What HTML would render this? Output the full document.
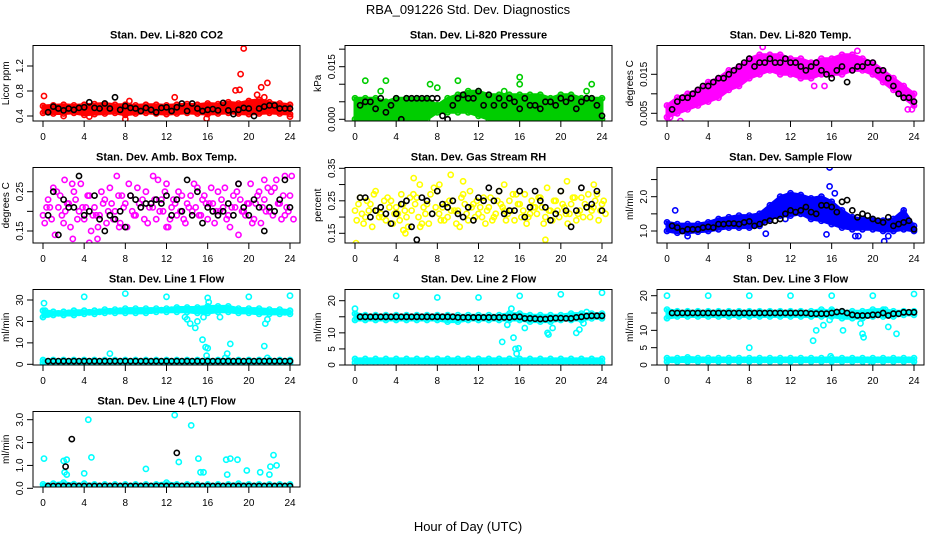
<!DOCTYPE html>
<html><head><meta charset="utf-8"><style>
body{margin:0;background:#fff;}
svg{display:block;font-family:"Liberation Sans",sans-serif;}
</style></head><body>
<svg id="chart" width="936" height="540" viewBox="0 0 936 540">
<text x="468" y="14" text-anchor="middle" font-size="13">RBA_091226  Std. Dev. Diagnostics</text>
<text x="468" y="531" text-anchor="middle" font-size="13">Hour of Day (UTC)</text>
</svg>
<script>
// ---- data ----
const xTicks = [0,4,8,12,16,20,24];
const co2Lo = [.45,.44,.44,.45,.42,.43,.44,.45,.42,.44,.45,.44,.43,.44,.45,.44,.43,.44,.45,.44,.43,.44,.45,.44,.43];
const co2Hi = [.56,.57,.58,.57,.58,.59,.60,.58,.58,.57,.58,.58,.57,.58,.59,.58,.60,.59,.62,.60,.64,.66,.62,.60,.58];
const co2Out = [[0.1,.72],[8.4,.64],[12.8,.70],[18.7,.81],[19.1,.82],[19.2,1.07],[19.5,1.48],[20.8,.74],[21.2,.86],[21.8,.93],[4.5,.39],[8,.35],[15.9,.36],[24,.39],[2,.40],[21.5,.70]];
const co2Black = [.46,.55,.52,.49,.52,.50,.53,.54,.62,.53,.52,.60,.52,.70,.50,.56,.53,.52,.48,.53,.50,.46,.53,.54,.48,.54,.60,.48,.60,.52,.48,.50,.51,.49,.61,.49,.43,.50,.53,.52,.40,.52,.55,.57,.57,.52,.52,.52];

const presLo = [0,0,0,0,0,0,0,0,.002,.002,.002,.002,.001,0,0,0,0,0,0,0,0,0,0,0,0];
const presHi = [.006,.006,.006,.005,.006,.006,.006,.006,.004,.006,.007,.008,.008,.007,.007,.007,.007,.007,.007,.006,.007,.007,.006,.006,.006];
const presOut = [[1,.011],[3,.011],[8,.023],[8,.009],[10,.011],[16,.025],[16,.012],[16,.010],[24,.022],[23,.010],[22.5,.008],[14.5,.008],[7.3,.010],[2.5,.008]];
const presBlack = [.004,.005,.005,.003,.006,.002,.004,.006,.000,.006,.006,.006,.006,.006,.006,.006,.001,.000,.004,.006,.007,.006,.006,.008,.004,.007,.004,.006,.004,.006,.005,.003,.006,.004,.004,.003,.005,.005,.004,.006,.005,.006,.003,.005,.006,.006,.004,.001];

const tempLo = [.004,.005,.006,.007,.008,.009,.011,.012,.014,.015,.016,.015,.015,.014,.014,.015,.015,.015,.016,.016,.015,.013,.011,.009,.007];
const tempHi = [.007,.009,.010,.011,.013,.014,.016,.017,.019,.020,.020,.020,.019,.019,.018,.019,.019,.020,.020,.019,.018,.016,.014,.012,.010];
const tempOut = [[1.3,.003],[9.3,.022],[18.5,.021],[23.4,.006],[23.8,.006],[14.3,.012],[15.3,.012],[0.3,.004]];
const tempBlack = [.006,.008,.009,.009,.010,.011,.012,.012,.013,.014,.014,.015,.016,.017,.018,.019,.017,.018,.018,.019,.018,.018,.019,.018,.018,.017,.016,.017,.018,.016,.015,.014,.016,.017,.013,.016,.017,.017,.018,.018,.016,.016,.014,.012,.010,.009,.009,.008];

const ambA = [.19,.23,.26,.21,.17,.22,.25,.20,.18,.24,.21,.19,.23,.26,.20,.17,.22,.24,.19,.21,.25,.22,.18,.23,.27,.21,.19,.24,.22,.20,.26,.23,.18,.22,.25,.21,.19,.24,.27,.20,.22,.18,.25,.23,.20,.26,.22,.19,.24];
const ambB = [.17,.21,.14,.24,.20,.16,.23,.27,.21,.15,.19,.25,.17,.22,.29,.24,.16,.20,.26,.23,.17,.21,.28,.20,.16,.23,.25,.18,.21,.27,.19,.24,.22,.17,.20,.26,.16,.21,.23,.19,.27,.22,.17,.20,.25,.28,.18,.21,.29];
const ambC = [.21,.18,.25,.19,.22,.27,.18,.21,.24,.19,.16,.22,.20,.18,.24,.21,.27,.19,.22,.18,.21,.23,.20,.25,.18,.22,.20,.17,.24,.21,.19,.22,.26,.20,.23,.18,.21,.25,.20,.22,.17,.24,.21,.26,.19,.22,.24,.20,.18];
const ambOut = [[2.1,.28],[4.5,.12],[5.3,.13],[10.7,.29],[14.5,.11],[19,.14],[2.9,.13],[7.4,.16],[12,.16],[21.5,.28],[23.5,.29]];
const ambBlack = [.19,.25,.14,.23,.21,.21,.29,.19,.20,.24,.18,.15,.19,.18,.20,.16,.24,.23,.21,.22,.22,.23,.22,.24,.19,.23,.20,.28,.19,.25,.17,.21,.20,.19,.20,.22,.19,.27,.21,.19,.23,.21,.15,.21,.20,.23,.28,.21];

const rhA = [.22,.26,.20,.24,.28,.21,.19,.25,.23,.27,.20,.22,.26,.18,.24,.21,.28,.23,.20,.25,.22,.27,.19,.24,.21,.26,.23,.20,.28,.22,.25,.19,.24,.27,.21,.23,.26,.20,.22,.25,.28,.21,.24,.19,.26,.23,.22,.27,.24];
const rhB = [.19,.21,.25,.17,.22,.20,.26,.18,.21,.24,.17,.27,.20,.23,.18,.29,.21,.19,.25,.22,.17,.24,.28,.20,.23,.18,.26,.21,.24,.19,.22,.27,.20,.18,.25,.21,.23,.29,.19,.22,.24,.18,.26,.21,.20,.27,.23,.19,.25];
const rhC = [.24,.18,.22,.27,.20,.25,.23,.21,.19,.22,.26,.24,.17,.21,.27,.23,.19,.24,.22,.18,.26,.21,.23,.25,.20,.22,.19,.25,.23,.21,.27,.24,.22,.20,.23,.26,.18,.22,.25,.20,.23,.21,.26,.22,.24,.20,.25,.22,.21];
const rhOut = [[0.1,.12],[4.7,.16],[5.7,.32],[6.3,.30],[8.2,.30],[9.3,.33],[4.9,.15],[10.5,.31],[14.5,.30],[18.5,.13],[20.6,.31],[23.2,.30]];
const rhBlack = [.26,.26,.20,.22,.23,.21,.18,.21,.24,.25,.17,.13,.26,.25,.21,.28,.24,.23,.25,.21,.20,.23,.19,.26,.25,.29,.25,.28,.21,.22,.22,.28,.20,.23,.28,.25,.23,.19,.21,.28,.22,.17,.22,.29,.23,.24,.28,.22];

const flowLo = [1.0,0.95,0.95,0.98,1.0,1.05,1.1,1.1,1.1,1.15,1.35,1.45,1.45,1.5,1.35,1.3,1.2,1.1,1.05,1.05,1.05,1.0,1.0,1.05,1.0];
const flowHi = [1.25,1.2,1.2,1.2,1.25,1.35,1.4,1.45,1.45,1.5,1.75,2.0,2.1,2.05,1.95,2.0,1.85,1.6,1.4,1.35,1.35,1.3,1.35,1.6,1.15];
const flowOut = [[0.8,1.6],[2,.85],[15.8,2.85],[15.8,2.3],[15.5,.9],[18.3,.85],[18.6,.85],[21.1,.7],[21.5,.85],[9.6,.92],[11.5,1.35],[16.3,2.1]];
const flowBlack = [1.15,1.1,1.0,1.05,1.05,1.05,1.1,1.12,1.1,1.2,1.2,1.22,1.22,1.2,1.25,1.28,1.15,1.2,1.25,1.3,1.3,1.35,1.5,1.6,1.55,1.6,1.7,1.55,1.5,1.75,1.75,1.7,1.55,1.85,1.9,1.6,1.4,1.5,1.45,1.35,1.3,1.25,1.4,1.15,1.2,1.25,1.3,1.05];

const l1UpLo = [22,23,23,23,23.5,23.5,24,24,24,24,24,24.5,24.5,24.5,24.5,24,24,24.5,24.5,24,24,23.5,23.5,23.5,23.5];
const l1UpHi = [25,24.5,24.5,25,25,25,25.5,25.5,26,26,26,26,26,26.5,26.5,26.5,27,27,27,26,26,26,25.5,25.5,25];
const l1LoLo = [.5,.5,.5,.5,.5,.5,.5,.5,.5,.5,.5,.5,.5,.5,.5,.5,.5,.5,.5,.5,.5,.5,.5,.5,.5];
const l1LoHi = [2,2,2,2,2,2,2,2,2,2,2,2,2,2,2,2,2,2,2,2,2,2,2,2,2];
const l1Out = [[0.1,28.5],[0.2,25],[4,31.5],[8,33],[12,31.5],[16,31],[20,31.5],[24,32],[14,21],[14.3,19],[14.8,17],[15,20],[15.5,11.5],[15.8,8],[16,7.5],[15.9,4],[6.5,5],[17.9,5],[18.2,9.5],[17.7,3],[21.5,8.5],[21.8,3],[21.6,19],[21.8,21],[13.8,22],[15.6,22],[17.2,22],[16.1,29]];
const l1Black = Array.from({length:48},()=>1.5);

const l2UpLo = [14,14,14,14,14,14,14,14,14,13.5,13.5,14,14,14,14,14,14,13.5,13.5,13.5,14,14,14,14.5,14.5];
const l2UpHi = [16,15.5,15.5,15.5,15.5,15.5,15.5,15.5,15.5,15.5,15.5,15.5,15.5,15.5,15.5,16,16,15.5,15.5,15.5,15.5,16,16,16,16];
const l2LoLo = [.7,.7,.7,.7,.7,.7,.7,.7,.7,.7,.7,.7,.7,.7,.7,.7,.7,.7,.7,.7,.7,.7,.7,.7,.7];
const l2LoHi = [1.9,1.9,1.9,1.9,1.9,1.9,1.9,1.9,1.9,1.9,1.9,1.9,1.9,1.9,1.9,1.9,1.9,1.9,1.9,1.9,1.9,1.9,1.9,1.9,1.9];
const l2Out = [[0,17.5],[4,21.5],[8,21],[12,21],[16,21.5],[20,22],[24,22.5],[14.3,7.2],[14.8,12.5],[15.2,17.5],[15.4,8.5],[15.6,5],[15.7,3.5],[15.9,5.2],[16.5,11.5],[18.7,10],[18.8,9.5],[19.2,11.5],[21.5,10],[21.8,11],[22.2,13],[22.5,16.5]];
const l2Black = [15,15,15,15,15,15,15,15,15,15,15,15,15,15,15,15,15,15,15,14.8,14.8,14.8,14.8,14.8,14.8,14.8,14.8,14.8,14.8,14.8,15,15,14.5,14.5,14.4,14.3,14.3,14.5,14.6,14.6,14.5,14.5,14.8,15,15.2,15.3,15.3,15.3];

const l3UpLo = [13.5,14,14,14,14,14,14,14,14,14,14,14,14,14,14,14,14,13.5,13.5,13.5,14,14,14,14.5,14.5];
const l3UpHi = [16,15.5,15.5,15.5,15.5,15.5,15.5,15.5,15.5,15.5,15.5,15.5,15.5,15.5,15.5,16,15.5,15.5,15.5,15.5,16,16,15.5,15.5,15.5];
const l3LoLo = [1,1,1,1,1,1,1,1,1,1,1,1,1,1,1,1,1,1,1,1,1,1,1,1,1];
const l3LoHi = [2,2,2.2,2,2,2,2,2,2,2,2,2,2,2,2,2,2,2,2,2,2,2,2,2,2];
const l3Out = [[0,20],[4,20],[8,20],[12,20],[16,20],[20,20],[24,20.5],[8,5],[14.2,7],[14.5,10],[15.2,11.5],[15.8,13],[16,16],[17.1,10],[19,9],[21.5,11],[22.3,9],[15.9,2.5],[18.8,12],[19.1,8],[21.2,16],[19.4,0.5]];
const l3Black = [15,15,15,15,15,15,15,15,15,15,15,15,15,15,15,15,15,15,15,15,15,15,15,15,15,15,15,14.8,14.8,14.8,14.8,15,15.3,15.5,15,14.5,14.3,14.3,14.3,14.5,14.5,15,14.3,14.8,14.8,15.2,15.2,15.2];

const l4LoLo = [.03,.03,.03,.03,.03,.03,.03,.03,.03,.03,.03,.03,.03,.03,.03,.03,.03,.03,.03,.03,.03,.03,.03,.03,.03];
const l4LoHi = [.17,.2,.25,.18,.2,.17,.17,.17,.17,.17,.17,.17,.25,.17,.17,.17,.17,.17,.17,.2,.17,.17,.17,.17,.17];
const l4Out = [[0.1,1.3],[2,1.2],[2.3,1.25],[2.1,.7],[2.3,.6],[4.4,3.0],[4.7,1.35],[4,.65],[10,.85],[12.8,3.2],[13.2,1.15],[14.4,2.75],[15.1,1.3],[15.3,.7],[15.6,.7],[17.8,1.25],[18.2,1.3],[18.9,1.25],[17.9,.6],[19.8,.78],[21.1,.7],[22,.6],[22.4,1.45],[22.7,1.0],[22.1,.95]];
const l4BlackOut = [[2.2,.95],[2.8,2.15],[13,1.55]];
const l4Black = Array.from({length:48},()=>0.1);

// ---- layout ----
const colX = [33,345,657];
const rowY = [45.5,167.5,289.5,411.5];
const boxW = 267, boxH = 75.5;
const hx0 = 10, hxPerHour = 247/24;

const panels = [
 {name:'co2',title:'Stan. Dev. Li-820 CO2',ylab:'Licor ppm',col:0,row:0,color:'#ff0000',ref:[0.4,70.5,1.2,20.5],ticks:[0.4,0.8,1.2],labels:['0.4','0.8','1.2'],bands:[[co2Lo,co2Hi]],scat:[],out:co2Out,black:co2Black,bout:[]},
 {name:'pressure',title:'Stan. Dev. Li-820 Pressure',ylab:'kPa',col:1,row:0,color:'#00cd00',ref:[0,73.8,0.015,21.2],ticks:[0,0.005,0.01,0.015,0.02],labels:['0.000','','','0.015',''],bands:[[presLo,presHi]],scat:[],out:presOut,black:presBlack,bout:[]},
 {name:'temp',title:'Stan. Dev. Li-820 Temp.',ylab:'degrees C',col:2,row:0,color:'#ff00ff',ref:[0.005,67.8,0.015,28.8],ticks:[0.005,0.01,0.015],labels:['0.005','','0.015'],bands:[[tempLo,tempHi]],scat:[],out:tempOut,black:tempBlack,bout:[]},
 {name:'amb-box-temp',title:'Stan. Dev. Amb. Box Temp.',ylab:'degrees C',col:0,row:1,color:'#ff00ff',ref:[0.15,63.5,0.25,24.2],ticks:[0.15,0.2,0.25],labels:['0.15','','0.25'],bands:[],scat:[ambA,ambB,ambC],out:ambOut,black:ambBlack,bout:[]},
 {name:'gas-rh',title:'Stan. Dev. Gas Stream RH',ylab:'percent',col:1,row:1,color:'#ffff00',ref:[0.15,65.8,0.35,0.8],ticks:[0.15,0.2,0.25,0.3,0.35],labels:['0.15','','0.25','','0.35'],bands:[],scat:[rhA,rhB,rhC],out:rhOut,black:rhBlack,bout:[]},
 {name:'sample-flow',title:'Stan. Dev. Sample Flow',ylab:'ml/min',col:2,row:1,color:'#0000ff',ref:[1.0,63.5,2.0,29.2],ticks:[1.0,1.5,2.0,2.5],labels:['1.0','','2.0',''],bands:[[flowLo,flowHi]],scat:[],out:flowOut,black:flowBlack,bout:[]},
 {name:'line1-flow',title:'Stan. Dev. Line 1 Flow',ylab:'ml/min',col:0,row:2,color:'#00ffff',ref:[0,74.8,30,10.5],ticks:[0,10,20,30],labels:['0','10','20','30'],bands:[[l1UpLo,l1UpHi],[l1LoLo,l1LoHi]],scat:[],out:l1Out,black:l1Black,bout:[]},
 {name:'line2-flow',title:'Stan. Dev. Line 2 Flow',ylab:'ml/min',col:1,row:2,color:'#00ffff',ref:[0,75.5,20,11.2],ticks:[0,5,10,15,20],labels:['0','5','10','','20'],bands:[[l2UpLo,l2UpHi],[l2LoLo,l2LoHi]],scat:[],out:l2Out,black:l2Black,bout:[]},
 {name:'line3-flow',title:'Stan. Dev. Line 3 Flow',ylab:'ml/min',col:2,row:2,color:'#00ffff',ref:[0,75.5,20,6.2],ticks:[0,5,10,15,20],labels:['0','5','10','','20'],bands:[[l3UpLo,l3UpHi],[l3LoLo,l3LoHi]],scat:[],out:l3Out,black:l3Black,bout:[]},
 {name:'line4-flow',title:'Stan. Dev. Line 4 (LT) Flow',ylab:'ml/min',col:0,row:3,color:'#00ffff',ref:[0,76.8,3,8.2],ticks:[0,1,2,3],labels:['0.0','1.0','2.0','3.0'],bands:[[l4LoLo,l4LoHi]],scat:[],out:l4Out,black:l4Black,bout:l4BlackOut}
];

const NS='http://www.w3.org/2000/svg';
const svg=document.getElementById('chart');
function mk(tag,attrs,parent){const e=document.createElementNS(NS,tag);for(const k in attrs)e.setAttribute(k,attrs[k]);parent.appendChild(e);return e;}

panels.forEach(p=>{
  const bx=colX[p.col], by=rowY[p.row];
  const g=mk('g',{},svg);
  
  
  const xs=h=>bx+hx0+h*hxPerHour;
  const [v1,r1,v2,r2]=p.ref;
  const ys=v=>by+r1+(v-v1)*(r2-r1)/(v2-v1);
  const clip='clip-'+p.name;
  const cp=mk('clipPath',{id:clip},g);
  mk('rect',{x:bx,y:by,width:boxW,height:boxH},cp);
  const marks=mk('g',{'clip-path':'url(#'+clip+')'},g);
  
  
  const dot=(h,v,c)=>{const e=mk('circle',{cx:xs(h).toFixed(1),cy:ys(v).toFixed(1),r:2.6,fill:'none',stroke:c,'stroke-width':1.6},marks);
    
    };
  p.bands.forEach(([lo,hi])=>{
    const n=lo.length, hrs=lo.map((_,i)=>i*24/(n-1));
    let pts=hrs.map((h,i)=>xs(h).toFixed(1)+','+ys(hi[i]).toFixed(1));
    pts=pts.concat(hrs.slice().reverse().map((h,j)=>xs(h).toFixed(1)+','+ys(lo[n-1-j]).toFixed(1)));
    const poly=mk('polygon',{points:pts.join(' '),fill:p.color,stroke:p.color,'stroke-width':3},marks);
    
    
    hrs.forEach((h,i)=>{dot(h,lo[i],p.color);dot(h,hi[i],p.color);if(i<n-1){dot(h+0.5,(lo[i]+hi[i+1])/2,p.color);}});
  });
  p.scat.forEach((arr,k)=>{arr.forEach((v,i)=>dot(i*0.5+k*0.17,v,p.color));});
  p.out.forEach(([h,v])=>dot(h,v,p.color));
  p.black.forEach((v,i)=>dot((i+1)*24/p.black.length,v,'#000'));
  p.bout.forEach(([h,v])=>dot(h,v,'#000'));
  const box=mk('rect',{x:bx,y:by,width:boxW,height:boxH,fill:'none',stroke:'#000','stroke-width':1},g);
  
  
  const t=mk('text',{x:bx+boxW/2,y:by-7,'text-anchor':'middle','font-size':11,'font-weight':'bold'},g);
  t.textContent=p.title;
  
  
  const yl=mk('text',{transform:'translate('+(bx-24)+','+(by+boxH/2)+') rotate(-90)','text-anchor':'middle','font-size':10},g);
  yl.textContent=p.ylab;
  
  
  xTicks.forEach(h=>{
    mk('line',{x1:xs(h),x2:xs(h),y1:by+boxH,y2:by+boxH+6,stroke:'#000'},g);
    const tl=mk('text',{x:xs(h),y:by+boxH+19,'text-anchor':'middle','font-size':10},g);
    tl.textContent=h;
    
    
  });
  p.ticks.forEach((v,i)=>{
    mk('line',{x1:bx-6,x2:bx,y1:ys(v),y2:ys(v),stroke:'#000'},g);
    if(p.labels[i]){
      const tl=mk('text',{transform:'translate('+(bx-10)+','+ys(v)+') rotate(-90)','text-anchor':'middle','font-size':10},g);
      tl.textContent=p.labels[i];
      
      
    }
  });
});
</script>
</body></html>
